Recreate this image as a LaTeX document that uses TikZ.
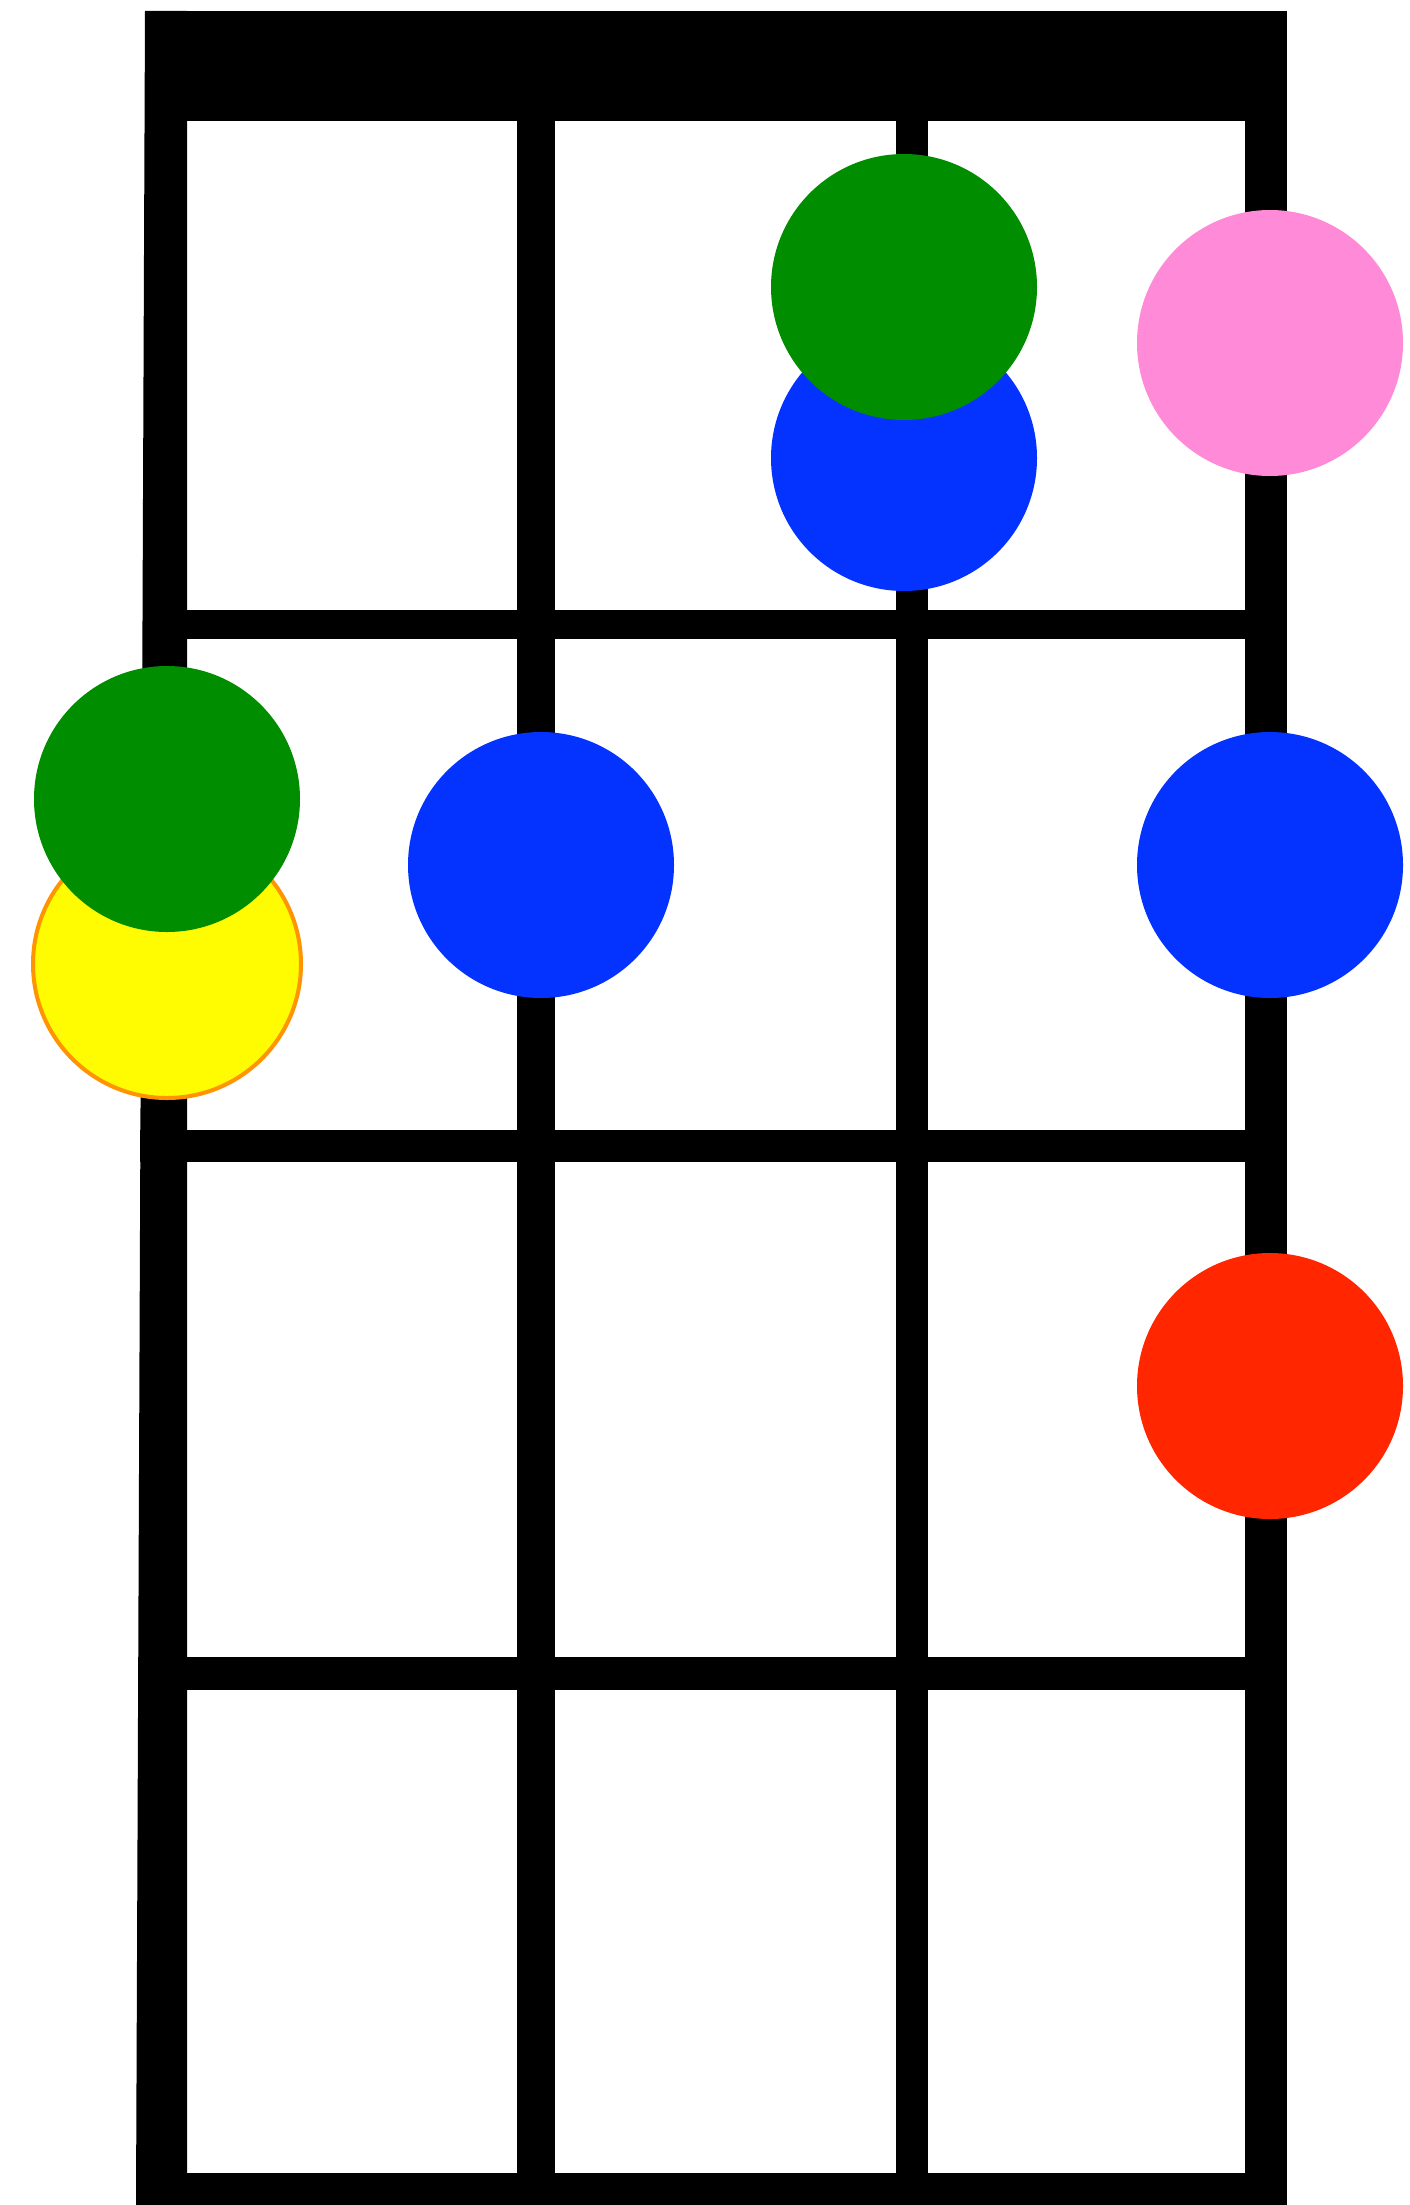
\documentclass[tikz,border=0pt]{standalone}
\usepackage{tikz}
\definecolor{clover}{HTML}{008D00}
\definecolor{dotblue}{HTML}{0433FF}
\definecolor{carnation}{HTML}{FF8AD8}
\definecolor{dotred}{HTML}{FF2600}
\definecolor{dotyellow}{HTML}{FFFB00}
\definecolor{dotorange}{HTML}{FF9300}
\tikzset{
  bar/.style={fill=black},
  dot/.style={circle, inner sep=0pt, minimum size=133pt, draw=none},
}
\begin{document}
\begin{tikzpicture}[x=0.5pt, y=-0.5pt]
\useasboundingbox[fill=white] (0,0) rectangle (1409,2205);
% nut
\fill[bar] (145,11) rectangle (1287,121);
% strings
\fill[bar] (145,11) -- (187,11) -- (187,2205) -- (136,2205) -- cycle;
\fill[bar] (517,11) rectangle (555,2205);
\fill[bar] (896,11) rectangle (928,2205);
\fill[bar] (1245,11) rectangle (1287,2205);
% frets
\fill[bar] (145,610) rectangle (1287,639);
\fill[bar] (140,1130) rectangle (1287,1162);
\fill[bar] (138,1657) rectangle (1287,1690);
\fill[bar] (136,2173) rectangle (1287,2205);
% dots
\node[dot, fill=dotblue] (b1) at (904,458) {};
\node[dot, fill=clover] (g1) at (904,287) {};
\node[dot, fill=carnation] (p1) at (1270,343) {};
\node[dot, fill=dotyellow, draw=dotorange, line width=2pt, minimum size=134pt] (y1) at (167,964) {};
\node[dot, fill=clover] (g2) at (167,799) {};
\node[dot, fill=dotblue] (b2) at (541,865) {};
\node[dot, fill=dotblue] (b3) at (1270,865) {};
\node[dot, fill=dotred] (r1) at (1270,1386) {};
\end{tikzpicture}
\end{document}
